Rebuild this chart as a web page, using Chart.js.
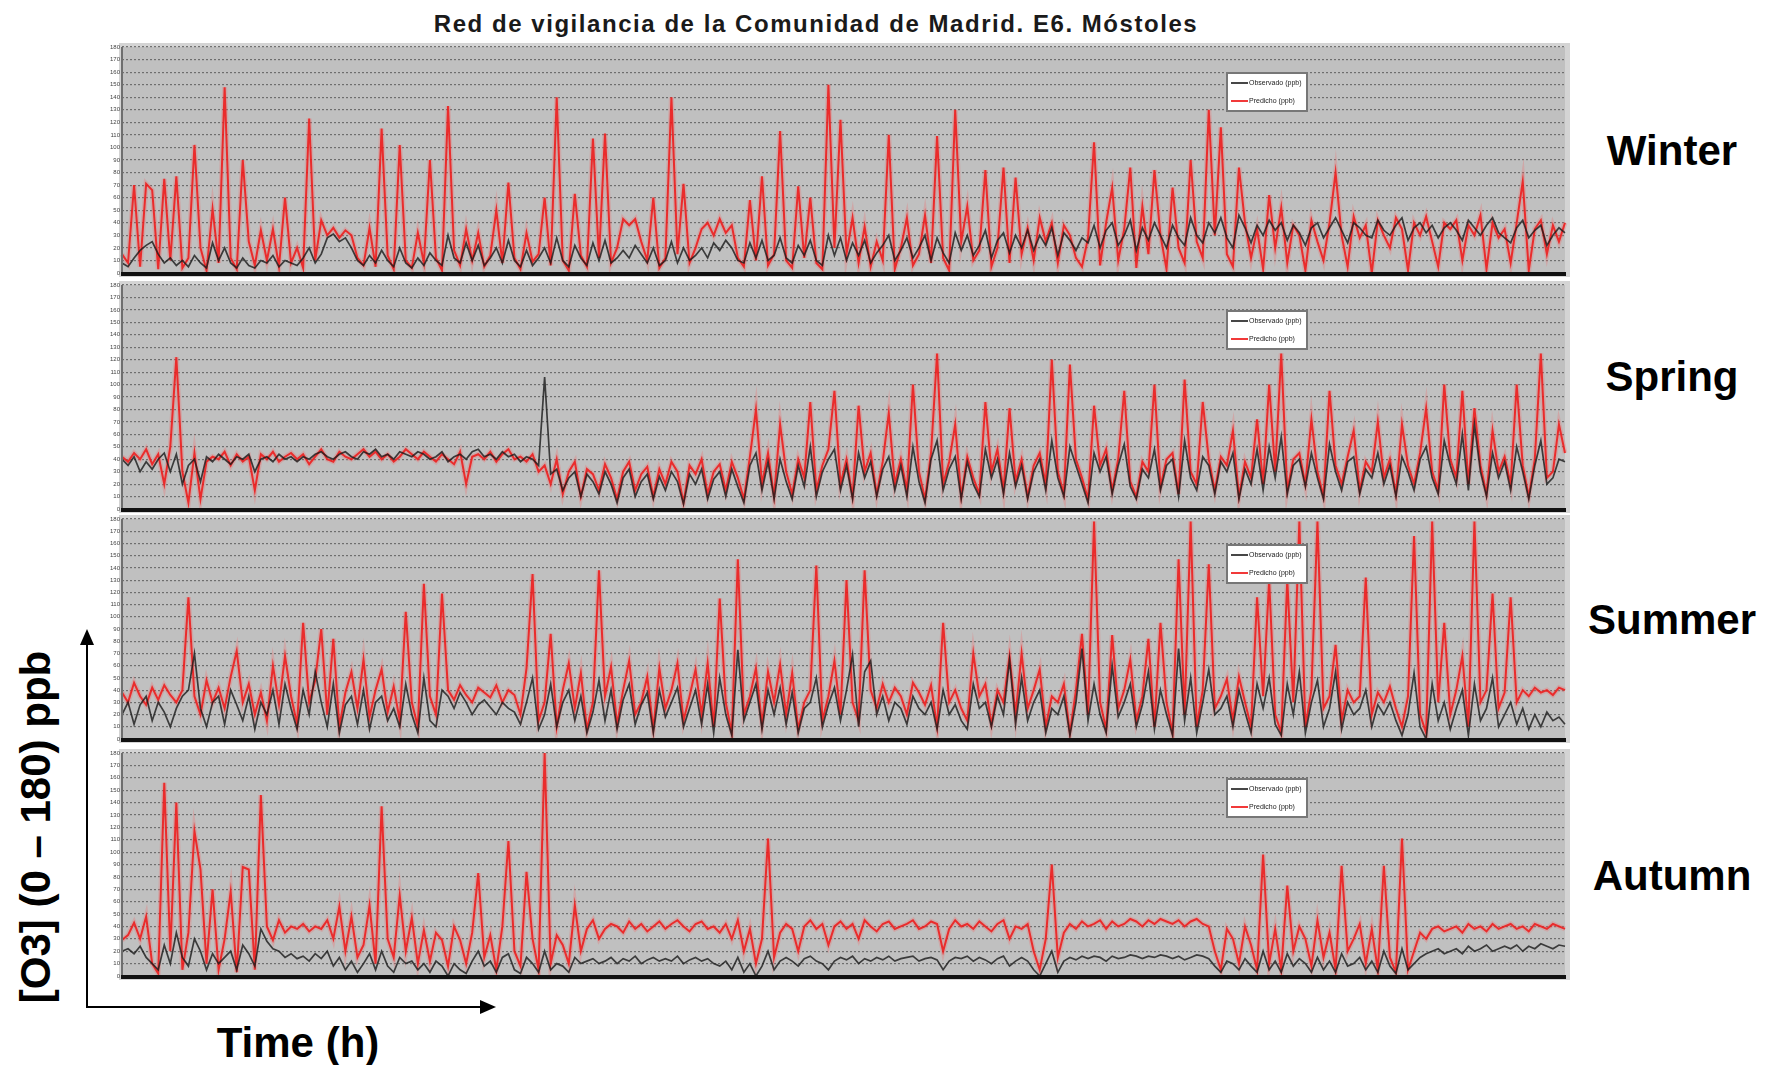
<!DOCTYPE html>
<html>
<head>
<meta charset="utf-8">
<script src="https://cdn.jsdelivr.net/npm/chart.js@4.4.1/dist/chart.umd.min.js"></script>
<style>
  body { margin: 0; background: #fff; width: 1777px; height: 1065px; position: relative; overflow: hidden;
         font-family: "Liberation Sans", Arial, sans-serif; }
  canvas { position: absolute; left: 100px; }
  .season { position: absolute; font-weight: bold; font-size: 42px; transform: translate(-50%, -50%); white-space: nowrap; color: #000; }
  #title { position: absolute; left: 816px; top: 24px; transform: translate(-50%, -50%); font-weight: bold; font-size: 24px;
           letter-spacing: 1.55px; color: #1a1a1a; white-space: nowrap; }
  #ylab { position: absolute; left: 36px; top: 827px; transform: translate(-50%, -50%) rotate(-90deg); font-weight: bold;
          font-size: 42px; white-space: nowrap; }
  #xlab { position: absolute; left: 298px; top: 1043px; transform: translate(-50%, -50%); font-weight: bold; font-size: 42px;
          white-space: nowrap; }
  svg { position: absolute; left: 0; top: 0; }
</style>
</head>
<body>
<div id="title">Red de vigilancia de la Comunidad de Madrid. E6. Móstoles</div>

<canvas id="c0" width="1475" height="238" style="top:41px"></canvas>
<canvas id="c1" width="1475" height="236" style="top:279px"></canvas>
<canvas id="c2" width="1475" height="232" style="top:513px"></canvas>
<canvas id="c3" width="1475" height="235" style="top:747px"></canvas>

<div class="season" style="left:1672px;top:151px">Winter</div>
<div class="season" style="left:1672px;top:377px">Spring</div>
<div class="season" style="left:1672px;top:620px">Summer</div>
<div class="season" style="left:1672px;top:876px">Autumn</div>

<div id="ylab">[O3] (0 – 180) ppb</div>
<div id="xlab">Time (h)</div>

<svg width="1777" height="1065">
  <line x1="87" y1="1008" x2="87" y2="642" stroke="#000" stroke-width="2"/>
  <polygon points="87,629 80,645 94,645" fill="#000"/>
  <line x1="86" y1="1007" x2="483" y2="1007" stroke="#000" stroke-width="2"/>
  <polygon points="496,1007 480,1000 480,1014" fill="#000"/>
</svg>

<script>
// y axis ticks (ppb)
const yTicks = [0,10,20,30,40,50,60,70,80,90,100,110,120,130,140,150,160,170,180];
const seriesNames = ["Observado (ppb)", "Predicho (ppb)"];

// Winter
const winterObs = [
  8,5,12,18,22,25,15,8,12,6, 10,5,14,8,4,24,10,20,8,4, 12,6,4,10,8,14,5,10,8,6,
  12,20,8,15,28,31,25,28,20,10, 6,14,8,18,10,5,20,8,4,12, 6,16,10,6,30,12,8,24,10,22,
  6,12,20,8,26,10,5,18,6,12, 20,8,28,10,5,22,12,6,24,10, 26,8,12,18,12,22,15,8,20,6,
  10,25,8,20,10,14,20,12,24,18, 26,20,10,8,24,12,26,10,14,28, 12,8,22,14,26,10,6,30,14,28,
  10,24,14,26,8,16,22,30,10,18, 28,12,20,30,10,28,16,8,32,18, 30,14,22,34,12,26,32,16,30,20,
  34,18,30,22,36,14,32,26,18,28, 24,38,20,34,40,22,30,42,18,36, 26,40,30,20,38,28,22,44,30,24,
  40,32,44,28,20,46,36,24,38,30, 42,34,40,26,38,32,22,36,40,28, 36,44,34,24,40,36,30,28,42,34,
  30,38,44,26,36,40,32,38,28,36, 40,34,26,42,36,30,38,44,32,28, 24,36,42,28,34,38,22,30,36,32
];
const winterPred = [
  15,8,70,5,71,66,3,75,10,77, 4,12,102,20,2,51,8,148,12,3, 90,25,6,34,10,35,5,60,8,20,
  4,123,10,42,30,36,28,34,30,12, 6,36,5,115,14,3,102,10,4,32, 8,90,12,2,133,18,6,35,10,32,
  5,14,50,8,72,12,3,32,9,15, 60,6,140,10,2,63,14,5,107,12, 111,8,20,43,38,43,25,10,60,4,
  12,140,15,71,8,20,35,40,30,43, 32,38,12,5,58,10,77,6,15,113, 10,4,69,12,60,8,3,150,20,122,
  15,44,8,37,5,25,10,110,3,20, 44,6,15,46,8,109,12,2,130,25, 53,10,18,82,5,20,84,8,76,15,
  36,10,44,25,40,8,38,30,12,5, 28,104,6,40,68,10,35,84,4,53, 15,82,30,3,68,20,8,90,25,12,
  130,30,116,15,5,84,40,12,35,3, 62,20,52,8,38,30,2,42,25,10, 40,80,30,5,45,28,38,0,42,30,
  20,44,35,2,40,30,45,25,5,40, 35,42,10,38,30,46,3,40,28,35, 8,40,73,2,35,42,15,38,25,40
];

// Spring
const springObs = [
  40,35,42,30,38,32,40,45,30,44, 20,35,40,22,42,38,44,40,36,42, 40,44,30,40,42,38,44,40,42,38,
  42,40,44,46,42,40,44,46,42,40, 46,44,48,42,44,40,46,44,42,46, 44,40,42,46,38,42,44,40,46,48,
  42,44,40,46,42,44,38,42,40,35, 106,28,32,15,25,30,10,28,22,12, 30,20,5,25,32,10,22,28,8,26,
  15,30,22,4,28,20,32,8,24,30, 10,32,18,5,35,45,15,38,8,40, 22,8,35,18,50,10,30,40,48,15,
  35,8,45,25,38,10,32,42,15,35, 10,50,22,5,40,55,15,32,42,8, 38,20,10,48,25,40,12,45,18,35,
  8,30,40,15,55,25,10,50,35,20, 5,45,30,42,12,35,52,18,8,32, 25,48,15,35,40,10,55,25,15,42,
  35,12,38,30,45,8,32,20,48,15, 50,25,58,12,35,40,18,45,25,8, 52,30,15,38,42,12,32,25,45,20,
  35,10,42,30,15,40,50,25,12,55, 35,20,60,15,68,30,10,45,25,38, 15,50,30,8,35,55,20,25,40,38
];
const springPred = [
  42,38,45,40,48,36,44,20,50,122, 30,5,45,8,38,42,40,46,35,44, 38,42,15,44,40,46,38,42,45,40,
  44,36,42,48,40,38,46,42,40,44, 48,42,46,40,44,38,42,48,44,40, 46,42,38,44,40,36,46,20,42,44,
  40,46,38,44,48,40,42,38,44,30, 35,20,40,12,30,38,10,32,28,15, 36,25,8,30,38,15,28,34,10,32,
  20,38,30,5,35,28,40,12,30,36, 15,38,25,8,42,80,20,45,10,68, 30,12,40,25,86,15,35,48,95,20,
  40,10,83,30,45,12,38,77,20,40, 15,100,30,8,45,125,20,38,68,10, 42,25,12,86,30,48,15,81,22,40,
  10,35,45,20,120,30,12,116,40,25, 8,83,35,48,15,40,95,22,10,38, 30,100,18,40,45,12,104,30,20,86,
  40,15,42,35,63,10,38,25,72,20, 100,30,125,15,40,45,20,72,30,10, 95,35,20,42,63,15,38,30,70,25,
  40,12,68,35,20,45,81,30,15,100, 40,25,95,20,81,35,12,63,30,42, 20,100,35,10,40,125,25,30,68,45
];

// Summer
const summerObs = [
  20,30,12,28,35,15,30,22,10,25, 35,40,70,25,10,30,35,12,40,28, 15,35,8,30,20,40,12,45,25,8,
  40,20,55,30,10,45,5,28,35,12, 40,8,30,35,15,25,10,45,20,5, 50,15,10,40,35,25,38,30,20,28,
  32,26,20,30,25,22,12,30,50,8, 20,45,10,30,40,15,35,5,22,48, 15,40,8,32,45,12,28,38,5,40,
  18,30,42,10,25,40,12,45,5,50, 20,3,73,15,30,45,8,40,20,42, 12,38,5,25,30,50,10,28,42,15,
  40,69,10,55,64,20,35,15,30,25, 12,35,25,20,30,8,40,20,28,15, 8,45,25,30,10,35,20,65,12,50,
  15,30,40,5,25,20,35,3,30,74, 15,45,20,5,60,18,30,45,10,28, 55,8,40,20,3,74,15,50,5,30,
  57,20,25,35,10,40,22,5,45,25, 50,12,3,45,20,55,5,30,48,10, 25,55,8,30,20,25,40,10,28,20,
  30,15,3,20,54,10,0,45,15,30, 8,25,40,3,45,15,25,50,10,20, 30,12,25,8,20,10,22,15,18,12
];
const summerPred = [
  38,30,46,35,28,42,32,44,36,30, 40,116,35,20,48,30,42,25,51,72, 30,45,20,38,15,60,28,68,35,12,
  95,30,48,90,20,82,10,38,55,25, 65,18,40,57,22,43,15,104,30,10, 127,35,20,119,40,32,44,36,30,42,
  38,34,44,30,40,36,20,58,135,15, 30,86,10,40,62,25,54,8,30,138, 35,59,12,40,64,20,30,51,8,58,
  25,40,62,15,35,57,20,62,10,115, 30,5,147,20,35,58,12,55,30,61, 20,54,8,30,40,142,15,35,64,20,
  130,30,15,138,40,25,45,30,42,35, 20,46,38,28,44,10,95,30,40,25, 15,70,35,45,12,40,30,68,20,70,
  25,40,57,10,35,30,45,5,40,86, 20,178,30,8,85,25,40,65,15,35, 82,10,95,30,5,147,20,178,10,40,
  143,25,35,49,15,51,30,10,116,35, 130,20,5,130,30,178,10,40,178,25, 35,77,15,40,30,35,132,20,38,30,
  43,25,10,35,166,20,5,178,30,95, 20,40,68,10,178,30,40,119,25,38, 116,30,40,35,42,38,40,36,42,40
];

// Autumn
const autumnObs = [
  20,22,18,24,15,10,5,25,10,35, 15,8,30,20,5,18,10,15,20,5, 25,18,8,38,28,22,20,15,18,14,
  16,12,18,14,20,8,15,5,12,3, 10,18,5,20,8,3,15,10,12,5, 10,3,12,8,0,10,5,2,12,20,
  8,12,3,15,18,5,2,15,10,3, 20,5,10,8,3,15,10,12,14,10, 12,15,10,14,12,16,10,13,15,12,
  14,12,16,10,13,15,12,14,10,8, 12,5,15,3,10,0,8,20,5,12, 15,12,8,14,16,12,10,5,12,15,
  13,16,10,14,12,15,13,16,12,14, 15,16,12,14,15,13,5,12,15,14, 16,12,15,13,10,14,16,8,12,15,
  12,5,0,10,20,3,12,15,13,16, 14,16,15,12,16,14,15,17,16,14, 16,15,17,16,14,16,13,15,17,16,
  14,8,3,12,10,5,14,8,3,20, 5,12,3,18,8,14,10,3,15,5, 12,3,18,8,10,15,5,12,3,20,
  8,2,22,5,10,15,18,20,22,18, 20,22,18,24,20,22,25,20,22,24, 22,25,20,24,22,26,24,22,25,24
];
const autumnPred = [
  29,33,43,30,48,10,2,156,20,140, 5,35,117,86,10,70,5,30,68,3, 88,86,5,146,40,29,45,35,40,38,
  42,36,40,38,45,30,56,20,48,15, 25,57,10,137,30,15,65,20,47,10, 37,12,35,29,8,40,29,10,35,83,
  15,33,5,40,109,20,8,84,30,5, 180,10,33,25,10,57,20,38,45,30, 38,42,40,35,44,38,42,36,40,44,
  38,42,45,40,36,42,44,38,40,35, 42,30,45,20,38,10,30,111,15,35, 42,38,20,40,45,38,42,25,40,44,
  38,42,30,45,40,36,42,44,38,40, 42,45,38,40,44,42,20,38,45,40, 42,38,44,40,36,42,45,30,40,38,
  42,20,5,30,90,15,35,42,38,44, 40,42,45,38,44,40,42,46,44,40, 45,42,46,44,42,45,40,44,46,42,
  40,20,5,38,30,10,40,25,5,98, 10,38,5,73,20,40,30,8,45,15, 35,5,89,20,30,42,10,38,5,89,
  15,3,111,5,20,35,30,38,40,36, 38,40,35,42,38,40,36,42,38,40, 42,38,40,36,42,40,38,42,40,38
];

const panels = [
  [winterObs, winterPred],
  [springObs, springPred],
  [summerObs, summerPred],
  [autumnObs, autumnPred]
];

const panelStyle = {
  id: 'panelStyle',
  beforeDraw(chart) {
    const { ctx, chartArea: a } = chart;
    ctx.save();
    ctx.fillStyle = '#d4d4d4';
    ctx.fillRect(a.left - 3, a.top - 4, a.right - a.left + 8, a.bottom - a.top + 8);
    ctx.fillStyle = '#c0c0c0';
    ctx.fillRect(a.left, a.top, a.right - a.left, a.bottom - a.top);
    ctx.restore();
  },
  afterDraw(chart) {
    const { ctx, chartArea: a } = chart;
    ctx.save();
    // axes
    ctx.fillStyle = '#6e6e6e';
    ctx.fillRect(a.left - 1, a.top, 2, a.bottom - a.top);
    ctx.fillStyle = '#111';
    ctx.fillRect(a.left - 1, a.bottom - 1, a.right - a.left + 2, 4);
    // legend box
    const x = a.left + 1105, y = a.top + 26, w = 80, h = 38;
    ctx.fillStyle = '#fff';
    ctx.fillRect(x, y, w, h);
    ctx.strokeStyle = '#777';
    ctx.lineWidth = 2;
    ctx.strokeRect(x, y, w, h);
    chart.data.datasets.filter(ds => !ds.halo).forEach((ds, k) => {
      const yy = y + 10 + k * 18;
      ctx.strokeStyle = ds.borderColor;
      ctx.lineWidth = 2;
      ctx.beginPath();
      ctx.moveTo(x + 4, yy);
      ctx.lineTo(x + 21, yy);
      ctx.stroke();
      ctx.fillStyle = '#222';
      ctx.font = '7px "Liberation Sans"';
      ctx.textBaseline = 'middle';
      ctx.fillText(ds.label, x + 22, yy);
    });
    ctx.restore();
  }
};

panels.forEach(([obs, pred], p) => {
  const ctx = document.getElementById('c' + p).getContext('2d');
  new Chart(ctx, {
    type: 'line',
    data: {
      labels: obs.map((_, i) => i),
      datasets: [
        { label: seriesNames[0], data: obs, borderColor: 'rgba(25,25,25,0.8)', borderWidth: 1.7, order: 1 },
        { label: seriesNames[1], data: pred, borderColor: 'rgba(238,22,22,0.85)', borderWidth: 2, order: 2 },
        { label: seriesNames[1], halo: true, data: pred, borderColor: 'rgba(240,110,110,0.3)', borderWidth: 5, order: 3 }
      ]
    },
    options: {
      responsive: false,
      animation: false,
      layout: { padding: { top: 6, bottom: 6, left: 4, right: 10 } },
      elements: { point: { radius: 0 }, line: { tension: 0 } },
      plugins: { legend: { display: false }, tooltip: { enabled: false } },
      scales: {
        x: { display: false },
        y: {
          min: 0, max: 180,
          afterBuildTicks: s => { s.ticks = yTicks.map(v => ({ value: v })); },
          afterFit: s => { s.width = 18; s.paddingTop = 0; s.paddingBottom = 0; },
          ticks: { font: { size: 6, family: 'Liberation Sans' }, color: '#444', padding: 2 },
          grid: { color: 'rgba(95,95,95,0.85)', lineWidth: 1.2, drawTicks: false },
          border: { display: false, dash: [2, 2] }
        }
      }
    },
    plugins: [panelStyle]
  });
});
</script>
</body>
</html>
